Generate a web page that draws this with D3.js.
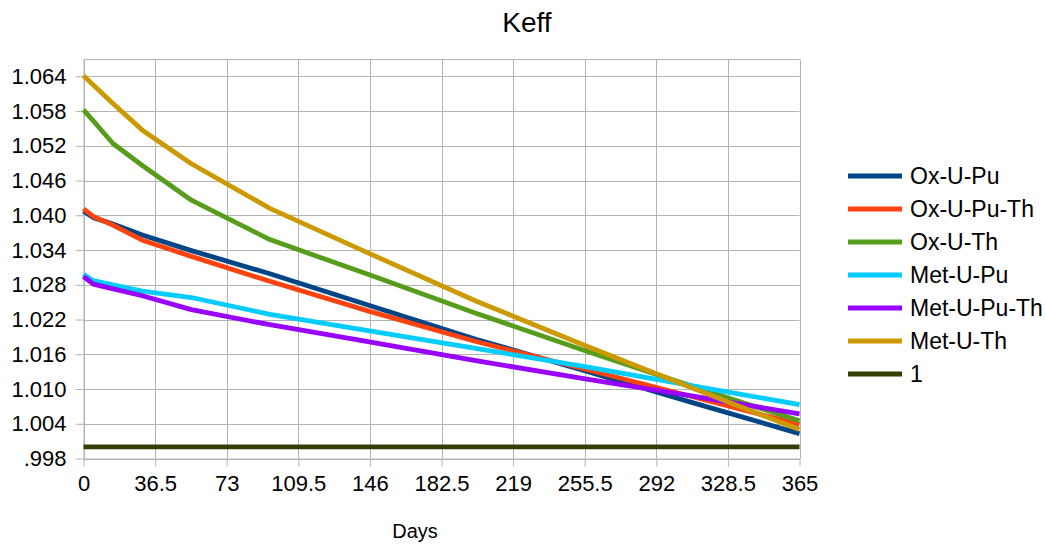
<!DOCTYPE html>
<html>
<head>
<meta charset="utf-8">
<script src="https://cdn.jsdelivr.net/npm/d3@7"></script>
<style>
body { margin: 0; background: #fff; }
svg { font-family: "Liberation Sans", Arial, sans-serif; }
.grid line { stroke: #b3b3b3; stroke-width: 1; }
.axis path, .axis line { stroke: #b3b3b3; }
.axis text { fill: #000; font-size: 22px; }
</style>
</head>
<body>
<svg id="chart" width="1046" height="544"></svg>
<script>
// days of each burnup step
var days = [0, 5, 15, 30, 55, 95, 145, 200, 255, 310, 365];

var oxUPu    = [1.0407, 1.0396, 1.0385, 1.0366, 1.0339, 1.0299, 1.0245, 1.0186, 1.0132, 1.0077, 1.0023];
var oxUPuTh  = [1.0411, 1.0398, 1.0383, 1.0357, 1.0329, 1.0286, 1.0235, 1.0182, 1.0135, 1.0087, 1.0039];
var oxUTh    = [1.0582, 1.0563, 1.0524, 1.0486, 1.0426, 1.0358, 1.0298, 1.0231, 1.0167, 1.0105, 1.0045];
var metUPu   = [1.0298, 1.0287, 1.0280, 1.0269, 1.0258, 1.0229, 1.0201, 1.0170, 1.0139, 1.0106, 1.0073];
var metUPuTh = [1.0294, 1.0281, 1.0273, 1.0261, 1.0237, 1.0211, 1.0182, 1.0149, 1.0118, 1.0088, 1.0057];
var metUTh   = [1.0641, 1.0625, 1.0593, 1.0547, 1.0489, 1.0412, 1.0335, 1.0252, 1.0176, 1.0102, 1.0030];
var one      = [1, 1, 1, 1, 1, 1, 1, 1, 1, 1, 1];

var names  = ["Ox-U-Pu", "Ox-U-Pu-Th", "Ox-U-Th", "Met-U-Pu", "Met-U-Pu-Th", "Met-U-Th", "1"];
var colors = ["#004586", "#ff420e", "#579d1c", "#00ccff", "#9900ff", "#cc9900", "#314004"];
var values = [oxUPu, oxUPuTh, oxUTh, metUPu, metUPuTh, metUTh, one];

var xTicks = [0, 36.5, 73, 109.5, 146, 182.5, 219, 255.5, 292, 328.5, 365];
var yTicks = [0.998, 1.004, 1.010, 1.016, 1.022, 1.028, 1.034, 1.040, 1.046, 1.052, 1.058, 1.064];

var plotLeft = 83.5, plotRight = 799.5, plotTop = 59.5, plotBottom = 458.5;

var svg = d3.select("#chart");

var x = d3.scaleLinear().domain([0, 365]).range([plotLeft, plotRight]);
var y = d3.scaleLinear().domain([0.998, 1.0669]).range([plotBottom, plotTop]);

// grid
var grid = svg.append("g").attr("class", "grid");
grid.selectAll("line.h").data(yTicks).enter()
.append("line").attr("class", "h")
.attr("x1", plotLeft).attr("x2", plotRight)
.attr("y1", function(d) { return Math.round(y(d)) + 0.5; })
.attr("y2", function(d) { return Math.round(y(d)) + 0.5; });
grid.selectAll("line.v").data(xTicks).enter()
.append("line").attr("class", "v")
.attr("x1", function(d) { return Math.round(x(d)) + 0.5; })
.attr("x2", function(d) { return Math.round(x(d)) + 0.5; })
.attr("y1", plotTop).attr("y2", plotBottom);
grid.append("line")
.attr("x1", plotLeft).attr("x2", plotRight)
.attr("y1", plotTop).attr("y2", plotTop);

// axes
var fmtY = function(d) { return d3.format(".3f")(d).replace(/^0/, ""); };
svg.append("g").attr("class", "axis")
.attr("transform", "translate(" + plotLeft + ",0)")
.call(d3.axisLeft(y).tickValues(yTicks).tickFormat(fmtY).tickSize(8).tickPadding(9).tickSizeOuter(0));
svg.append("g").attr("class", "axis")
.attr("transform", "translate(0," + plotBottom + ")")
.call(d3.axisBottom(x).tickValues(xTicks).tickFormat(d3.format("")).tickSize(8).tickPadding(9).tickSizeOuter(0));

// series
var line = d3.line()
.x(function(d, i) { return x(days[i]); })
.y(function(d) { return y(d); });

svg.append("g").selectAll("path").data(values).enter()
.append("path")
.attr("fill", "none")
.attr("stroke", function(d, i) { return colors[i]; })
.attr("stroke-width", 4.8)
.attr("stroke-linejoin", "round")
.attr("d", line);

// legend
var legend = svg.append("g").attr("transform", "translate(848,176)");
var items = legend.selectAll("g").data(names).enter()
.append("g")
.attr("transform", function(d, i) { return "translate(0," + i * 33 + ")"; });
items.append("line")
.attr("x1", 0).attr("x2", 54).attr("y1", 0).attr("y2", 0)
.attr("stroke", function(d, i) { return colors[i]; })
.attr("stroke-width", 4.8);
items.append("text")
.attr("x", 62).attr("y", 8)
.style("font-size", "23px")
.text(function(d) { return d; });

// titles
svg.append("text")
.attr("x", 527).attr("y", 32)
.attr("text-anchor", "middle")
.style("font-size", "28px")
.text("Keff");
svg.append("text")
.attr("x", 415).attr("y", 538)
.attr("text-anchor", "middle")
.style("font-size", "20px")
.text("Days");
</script>
</body>
</html>
